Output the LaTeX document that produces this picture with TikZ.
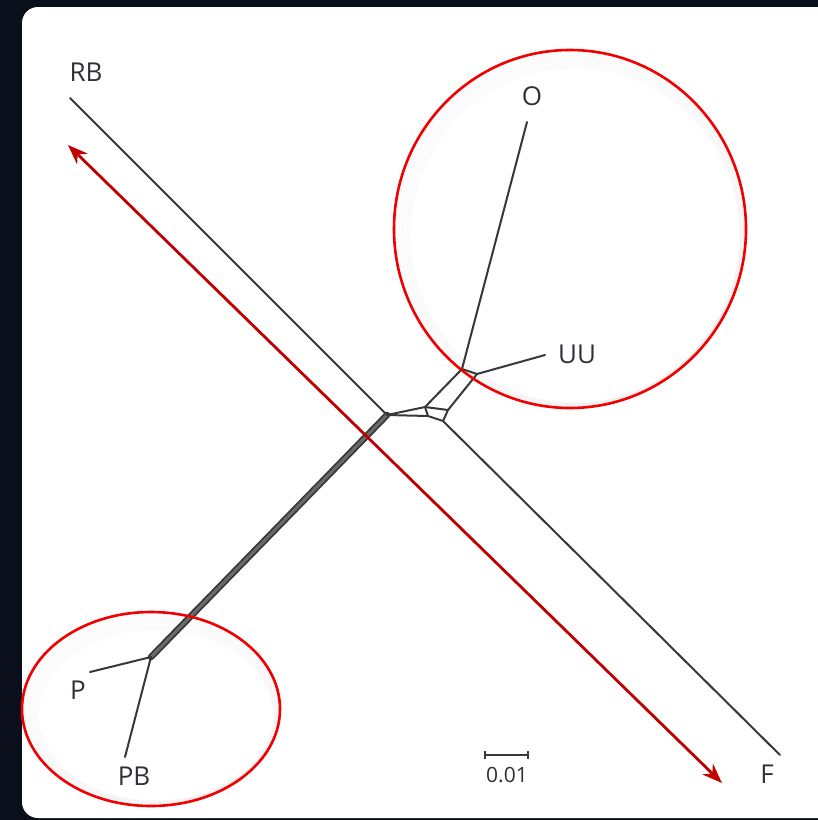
\documentclass[tikz,border=0pt]{standalone}
\usepackage{fontspec}
\setmainfont{Open Sans}
\usetikzlibrary{arrows.meta,calc}
\definecolor{bgnavy}{HTML}{0B0F1C}
\definecolor{edgegray}{HTML}{383838}
\definecolor{ringred}{HTML}{F00000}
\definecolor{arrowred}{HTML}{C00000}
\definecolor{labelgray}{HTML}{30303A}
\tikzset{
  edge/.style={draw=edgegray, line width=2pt, line cap=round, line join=round},
  thickedge/.style={draw=edgegray, line width=1.8pt, double=edgegray!75, double distance=3pt, line cap=round},
  ring/.style={draw=ringred, line width=2.6pt},
  taxon/.style={font=\fontsize{26}{26}\selectfont, text=labelgray, inner sep=0pt},
  scalelab/.style={font=\fontsize{21}{21}\selectfont, text=labelgray, inner sep=0pt},
  bigarrow/.style={draw=arrowred, line width=2.8pt, {Stealth[length=20pt,width=15pt]}-{Stealth[length=20pt,width=15pt]}}
}
\begin{document}
\begin{tikzpicture}[x=1pt, y=-1pt]
\useasboundingbox (0,0) rectangle (818,820);
\fill[bgnavy] (0,0) rectangle (818,820);
\fill[white, rounded corners=16pt] (22,7) rectangle (840,818);
% tree coordinates
\coordinate (rbend) at (70,98);
\coordinate (A) at (387,415);
\coordinate (B) at (425,407);
\coordinate (Bp) at (428,416);
\coordinate (C) at (448,410);
\coordinate (D) at (443,421);
\coordinate (E) at (462,369);
\coordinate (G) at (477,374);
\coordinate (oend) at (527,122);
\coordinate (uuend) at (545,355);
\coordinate (fend) at (780,755);
\coordinate (Q) at (151,657);
\coordinate (pend) at (90,672);
\coordinate (pbend) at (125,757);
% shadows of rings
\foreach \k in {1,...,6}{
  \draw[black, opacity=0.02, line width=2pt] (570+\k*0.8,229+\k*1.0) ellipse [x radius=176-\k*1.8, y radius=179-\k*1.8];
  \draw[black, opacity=0.02, line width=2pt] (151+\k*0.8,709+\k*1.0) ellipse [x radius=129-\k*1.8, y radius=97-\k*1.8];
}
% edges
\draw[edge] (rbend) -- (A);
\draw[thickedge] (A) -- (Q);
\draw[edge] (A) -- (B);
\draw[edge] (A) -- (Bp);
\draw[edge] (B) -- (Bp);
\draw[edge] (B) -- (C);
\draw[edge] (Bp) -- (D);
\draw[edge] (C) -- (D);
\draw[edge] (B) -- (E);
\draw[edge] (C) -- (G);
\draw[edge] (E) -- (G);
\draw[edge] (E) -- (oend);
\draw[edge] (G) -- (uuend);
\draw[edge] (D) -- (fend);
\draw[edge] (Q) -- (pend);
\draw[edge] (Q) -- (pbend);
% labels
\node[taxon] (rb) at (86,72) {RB};
\node[taxon] (o) at (532,96) {O};
\node[taxon] (uu) at (577,354) {UU};
\node[taxon] (p) at (78,690) {P};
\node[taxon] (pb) at (134,776) {PB};
\node[taxon] (f) at (767,774) {F};
% scale bar
\coordinate (sb1) at (485,755);
\coordinate (sb2) at (528,755);
\draw[edge, line width=2pt, line cap=butt] (sb1) -- (sb2);
\draw[edge, line width=2pt, line cap=butt] ($(sb1)+(0,-4)$) -- ($(sb1)+(0,4)$);
\draw[edge, line width=2pt, line cap=butt] ($(sb2)+(0,-4)$) -- ($(sb2)+(0,4)$);
\node[scalelab] (sbl) at (507,775) {0.01};
% rings
\draw[ring] (570,229) ellipse [x radius=176, y radius=179];
\draw[ring] (151,709) ellipse [x radius=129, y radius=97];
% arrow
\coordinate (at1) at (68,145);
\coordinate (at2) at (722,783);
\draw[bigarrow] (at1) -- (at2);
\end{tikzpicture}
\end{document}
